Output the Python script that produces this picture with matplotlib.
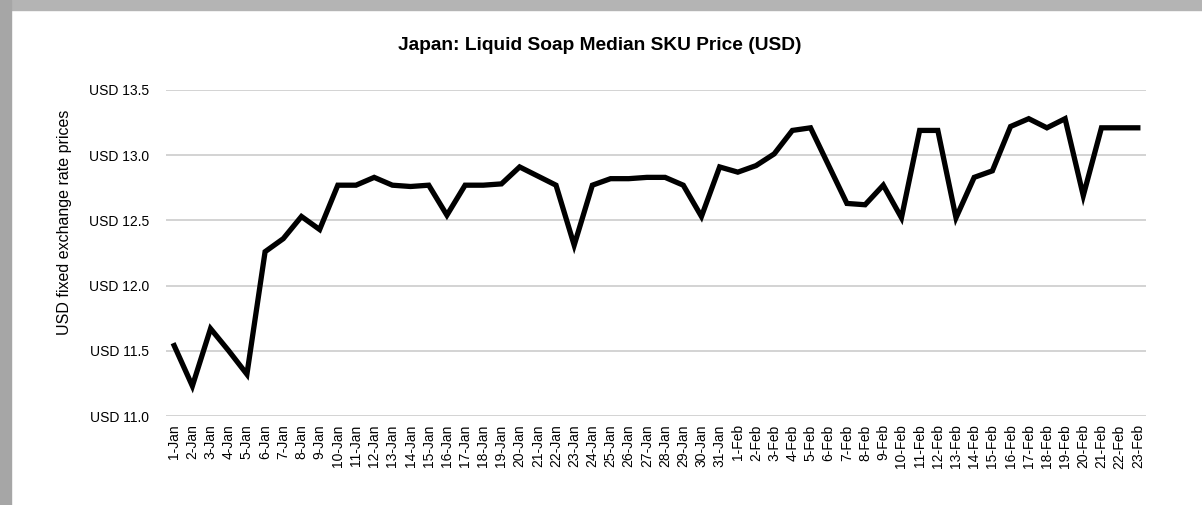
import matplotlib
matplotlib.use("Agg")
import matplotlib.pyplot as plt
from matplotlib.patches import Rectangle

# Dates on the x axis (1-Jan .. 23-Feb)
jan_days = [f"{d}-Jan" for d in range(1, 32)]
feb_days = [f"{d}-Feb" for d in range(1, 24)]
dates = jan_days + feb_days

# Median SKU price
prices = [
    11.54, 11.23, 11.67, 11.50, 11.32, 12.26, 12.36, 12.53, 12.43, 12.77,
    12.77, 12.83, 12.77, 12.76, 12.77, 12.54, 12.77, 12.77, 12.78, 12.91,
    12.84, 12.77, 12.31, 12.77, 12.82, 12.82, 12.83, 12.83, 12.77, 12.53,
    12.91, 12.87, 12.92, 13.01, 13.19, 13.21, 12.92, 12.63, 12.62, 12.77,
    12.52, 13.19, 13.19, 12.52, 12.83, 12.88, 13.22, 13.28, 13.21, 13.28,
    12.69, 13.21, 13.21, 13.21,
]

y_ticks = [11.0, 11.5, 12.0, 12.5, 13.0, 13.5]
y_labels = [f"USD {v:.1f}" for v in y_ticks]

plt.rcParams['font.family'] = ['Liberation Sans', 'DejaVu Sans']

W, H = 1202, 505
fig = plt.figure(figsize=(W / 100, H / 100), dpi=100)

# screenshot frame: gray bands on top and left
fig.patches.append(Rectangle((0, 1 - 10 / H), 1, 10 / H, transform=fig.transFigure,
                             color='#b4b4b4', zorder=0))
fig.patches.append(Rectangle((0, 0), 11 / W, 1, transform=fig.transFigure,
                             color='#a6a6a6', zorder=0))

ax = fig.add_axes([166 / W, (H - 416) / H, (1146 - 166) / W, (416 - 90) / H])

x = list(range(len(dates)))
ax.plot(x, prices, color='black', linewidth=3.8, solid_joinstyle='miter', zorder=3)

ax.set_xlim(-0.45, len(dates) - 0.55)
ax.set_ylim(11.0, 13.5)
ax.set_yticks(y_ticks)
ax.set_yticklabels(y_labels, fontsize=10)
ax.set_xticks(x)
ax.set_xticklabels(dates, rotation=90, fontsize=10)

ax.grid(axis='y', color='#d3d3d3', linewidth=1.4, zorder=0)
for s in ax.spines.values():
    s.set_visible(False)
ax.tick_params(axis='both', length=0)
ax.tick_params(axis='y', pad=12)
ax.tick_params(axis='x', pad=6)

fig.text(64 / W, 1 - 222 / H, 'USD fixed exchange rate prices', rotation=90,
         ha='center', va='center', fontsize=11.5)
fig.text(600 / W, 1 - 46 / H, 'Japan: Liquid Soap Median SKU Price (USD)',
         ha='center', va='center', fontsize=13.8, fontweight='bold')

fig.savefig('out.png', dpi=100)
